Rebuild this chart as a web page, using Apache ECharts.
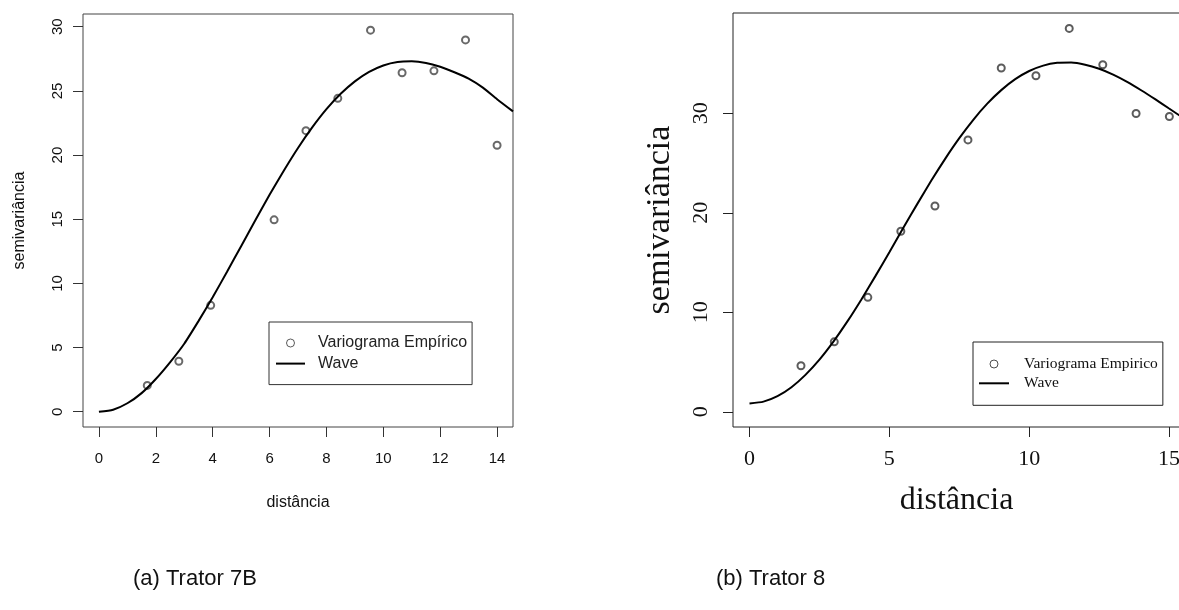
<!DOCTYPE html>
<html>
<head>
<meta charset="utf-8">
<script src="https://cdn.jsdelivr.net/npm/echarts@6/dist/echarts.min.js"></script>
<style>html,body{margin:0;padding:0;background:#fff}#c{width:1179px;height:610px}</style>
</head>
<body>
<div id="c"></div>
<script>
// Panel (a) Trator 7B
const distA = [1.70, 2.81, 3.93, 6.16, 7.28, 8.40, 9.55, 10.66, 11.78, 12.89, 14.00];
const semiA = [2.05, 3.93, 8.29, 14.95, 21.90, 24.42, 29.73, 26.41, 26.56, 28.97, 20.76];
const waveDistA = [0,0.5,1,1.5,2,2.5,3,3.5,4,4.5,5,5.5,6,6.5,7,7.5,8,8.5,9,9.5,10,10.5,11,11.5,12,12.5,13,13.5,14,14.56];
const waveA = [0,0.16,0.66,1.45,2.55,3.85,5.3,7.06,8.92,10.89,12.90,14.92,16.90,18.78,20.55,22.15,23.57,24.77,25.74,26.48,26.98,27.25,27.30,27.18,26.88,26.45,25.95,25.25,24.35,23.4];
const xTicksA = [0,2,4,6,8,10,12,14];
const yTicksA = [0,5,10,15,20,25,30];

// Panel (b) Trator 8
const distB = [1.84, 3.03, 4.23, 5.41, 6.63, 7.81, 9.00, 10.24, 11.43, 12.63, 13.82, 15.01];
const semiB = [4.63, 7.04, 11.51, 18.15, 20.69, 27.33, 34.55, 33.77, 38.53, 34.88, 29.98, 29.68];
const waveDistB = [0,0.5,1,1.5,2,2.5,3,3.5,4,4.5,5,5.5,6,6.5,7,7.5,8,8.5,9,9.5,10,10.5,11,11.5,12,12.5,13,13.5,14,14.5,15,15.5];
const waveB = [0.84,1.03,1.58,2.48,3.72,5.25,7.06,9.09,11.30,13.64,16.05,18.49,20.90,23.24,25.45,27.50,29.35,30.97,32.33,33.43,34.25,34.79,35.07,35.10,34.89,34.48,33.89,33.16,32.32,31.42,30.48,29.55];
const xTicksB = [0,5,10,15];
const yTicksB = [0,10,20,30];

const sans = 'Liberation Sans, Arial, sans-serif';
const serif = 'Liberation Serif, Times New Roman, serif';

const zip = (xs, ys) => xs.map((x, i) => [x, ys[i]]);

function xAxisCfg(gi, min, max, ticks, font, size, margin, name, nameSize, nameGap, col) {
  return {
    type: 'value', gridIndex: gi, min: min, max: max, position: 'bottom',
    axisLine: {show: false, onZero: false}, splitLine: {show: false},
    axisTick: {show: true, inside: false, length: 10, customValues: ticks, lineStyle: {color: col, width: 1}},
    axisLabel: {show: true, customValues: ticks, margin: margin, fontFamily: font, fontSize: size, color: '#111', showMinLabel: true, showMaxLabel: true},
    name: name, nameLocation: 'middle', nameGap: nameGap,
    nameTextStyle: {fontFamily: font, fontSize: nameSize, color: '#111'}
  };
}
function yAxisCfg(gi, min, max, ticks, font, size, margin, name, nameSize, nameGap, col) {
  return {
    type: 'value', gridIndex: gi, min: min, max: max, position: 'left',
    axisLine: {show: false, onZero: false}, splitLine: {show: false},
    axisTick: {show: true, inside: false, length: 10, customValues: ticks, lineStyle: {color: col, width: 1}},
    axisLabel: {show: true, customValues: ticks, rotate: 90, margin: margin, fontFamily: font, fontSize: size, color: '#111', showMinLabel: true, showMaxLabel: true},
    name: name, nameLocation: 'middle', nameGap: nameGap, nameRotate: 90,
    nameTextStyle: {fontFamily: font, fontSize: nameSize, color: '#111'}
  };
}

const chart = echarts.init(document.getElementById('c'), null, {renderer: 'canvas'});
chart.setOption({
  backgroundColor: '#fff',
  animation: false,
  grid: [
    {left: 83, top: 14, width: 430, height: 413, show: true, borderColor: '#444', borderWidth: 1, backgroundColor: 'transparent', containLabel: false, outerBoundsMode: 'none'},
    {left: 733, top: 13, width: 447, height: 414, show: true, borderColor: '#222', borderWidth: 1, backgroundColor: 'transparent', containLabel: false, outerBoundsMode: 'none'}
  ],
  xAxis: [
    xAxisCfg(0, -0.56, 14.56, xTicksA, sans, 15, 24, 'distância', 16, 68, '#333'),
    xAxisCfg(1, -0.59, 15.39, xTicksB, serif, 22, 21, 'distância', 32, 58, '#222')
  ],
  yAxis: [
    yAxisCfg(0, -1.19, 30.99, yTicksA, sans, 15, 18, 'semivariância', 16, 55, '#333'),
    yAxisCfg(1, -1.52, 40.08, yTicksB, serif, 22, 21, 'semivariância', 34, 56, '#222')
  ],
  legend: [
    {
      data: [
        {name: 'Variograma Empírico', icon: 'circle', itemStyle: {color: '#fff', borderColor: '#333', borderWidth: 1}},
        {name: 'Wave', icon: 'line', itemStyle: {color: '#000', borderColor: '#000', borderWidth: 2}}
      ],
      orient: 'vertical', left: 269, top: 322, padding: [13, 5, 13, 6],
      itemWidth: 29, itemHeight: 8, itemGap: 4.6,
      borderColor: '#333', borderWidth: 1, borderRadius: 0, backgroundColor: '#fff',
      selectedMode: false,
      textStyle: {fontFamily: sans, fontSize: 16, color: '#222', lineHeight: 16, padding: [0, 0, 0, 8]}
    },
    {
      data: [
        {name: 'Variograma Empirico', icon: 'circle', itemStyle: {color: '#fff', borderColor: '#222', borderWidth: 1}},
        {name: 'Wave', icon: 'line', itemStyle: {color: '#000', borderColor: '#000', borderWidth: 2}}
      ],
      orient: 'vertical', left: 973, top: 342, padding: [14, 5, 14, 5],
      itemWidth: 30, itemHeight: 8, itemGap: 3.3,
      borderColor: '#222', borderWidth: 1, borderRadius: 0, backgroundColor: '#fff',
      selectedMode: false,
      textStyle: {fontFamily: serif, fontSize: 15.5, color: '#111', lineHeight: 16, padding: [0, 0, 0, 10]}
    }
  ],
  series: [
    {name: 'Variograma Empírico', type: 'scatter', xAxisIndex: 0, yAxisIndex: 0, data: zip(distA, semiA),
      symbol: 'emptyCircle', symbolSize: 7, itemStyle: {color: '#444', borderWidth: 1}, z: 2},
    {name: 'Wave', type: 'line', xAxisIndex: 0, yAxisIndex: 0, data: zip(waveDistA, waveA),
      symbol: 'none', smooth: 0.2, lineStyle: {color: '#000', width: 2}, itemStyle: {color: '#000'}, z: 3},
    {name: 'Variograma Empirico', type: 'scatter', xAxisIndex: 1, yAxisIndex: 1, data: zip(distB, semiB),
      symbol: 'emptyCircle', symbolSize: 7, itemStyle: {color: '#333', borderWidth: 1}, z: 2},
    {name: 'Wave', type: 'line', xAxisIndex: 1, yAxisIndex: 1, data: zip(waveDistB, waveB),
      symbol: 'none', smooth: 0.2, lineStyle: {color: '#000', width: 2}, itemStyle: {color: '#000'}, z: 3}
  ],
  graphic: [
    {type: 'text', left: 133, top: 568, style: {text: '(a) Trator 7B', fontFamily: sans, fontSize: 22, fill: '#111'}},
    {type: 'text', left: 716, top: 568, style: {text: '(b) Trator 8', fontFamily: sans, fontSize: 22, fill: '#111'}}
  ]
});
</script>
</body>
</html>
